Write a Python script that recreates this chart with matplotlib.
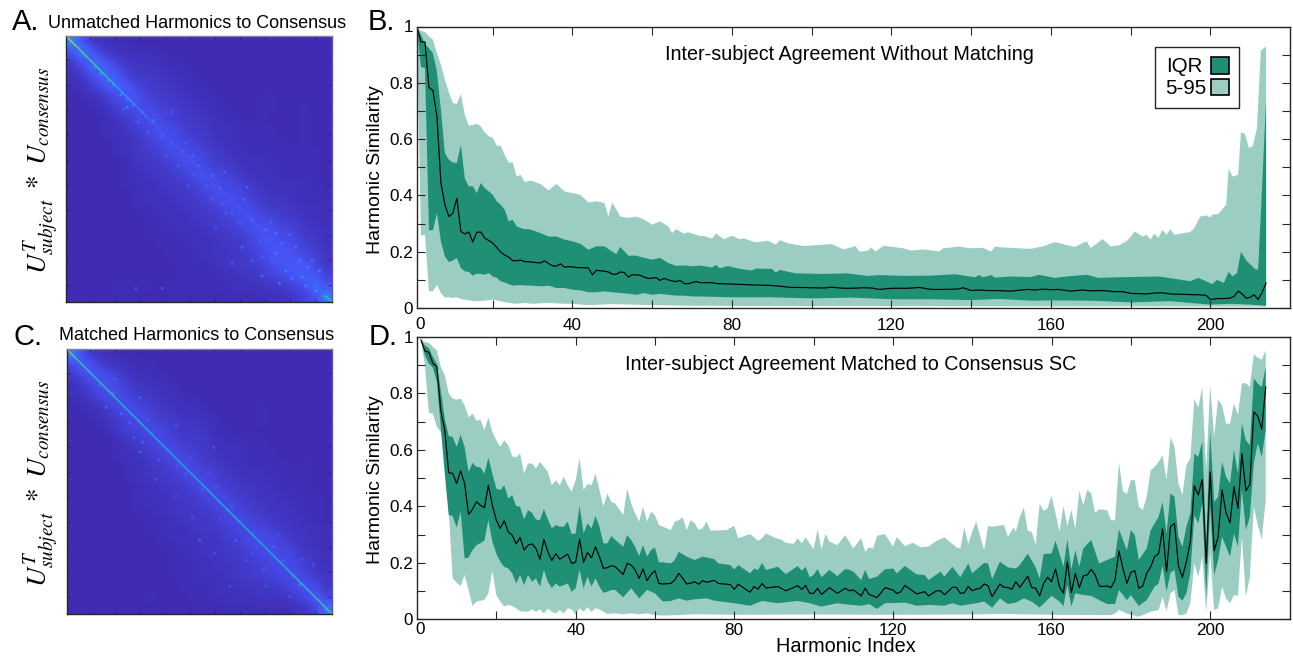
import numpy as np
import matplotlib
matplotlib.use("Agg")
import matplotlib.pyplot as plt
from matplotlib.collections import LineCollection
from matplotlib.colors import LinearSegmentedColormap
from matplotlib.patches import Patch
from matplotlib.ticker import FixedLocator

plt.rcParams['font.family'] = ['Liberation Sans', 'DejaVu Sans']
plt.rcParams['mathtext.fontset'] = 'stix'

W, H = 1293, 657
DARK = '#1f9075'
LIGHT = '#9ccdc3'
INK = '#262626'

# ---------- panel B values ----------
b_med_x = list(range(1, 26)) + [26,27,28,29,30,31,32,33,34,35,36,37,38,39,40,41,42,43,44,45,46,47,48,49,50,51,52,53,54,55,56,57,58,59,60,61,62,63,64,65,66,67,68,69,70,71,72,73,74,75,76,80,85,90,93,95,97,100,103,105,108,110,113,115,117,120,122,124,127,130,133,136,137,138,140,142,144,146,150,154,156,158,160,162,165,168,170,173,176,178,180,184,186,188,190,194,197,199,200,202,203,205,206,207,208,209,210,211,212,213,214]
b_med_y = [1.0,.945,.945,.783,.773,.68,.444,.367,.325,.337,.39,.272,.263,.27,.234,.269,.27,.248,.24,.231,.215,.199,.188,.181,.168,
 .168,.17,.165,.164,.163,.161,.16,.168,.158,.15,.149,.157,.145,.147,.146,.144,.143,.143,.142,.118,.134,.132,.131,.128,.12,.12,.128,.126,.11,.118,.118,.116,.11,.105,.106,.108,.098,.105,.1,.096,.094,.098,.087,.086,.09,.094,.09,.09,.09,.09,.087,
 .085,.082,.08,.076,.073,.073,.072,.071,.074,.07,.07,.072,.071,.066,.07,.07,.07,.073,.066,.066,.067,.068,.072,.062,.064,.062,.062,.06,.066,.064,.067,.065,.066,.06,.064,.061,.062,.058,.058,.052,.05,.053,.054,.05,.048,.047,.045,.03,.034,.033,.035,.042,.06,.05,.035,.038,.047,.03,.055,.089]

b_p95_x = list(range(1,31)) + [32,34,36,38,40,42,44,46,48,49,50,52,54,56,58,60,62,64,65,66,68,69,72,73,75,76,78,80,82,83,86,89,91,92,94,98,103,105,108,111,112,114,115,116,118,123,125,128,132,133,137,140,143,145,146,148,151,155,158,161,166,169,170,173,175,177,179,180,181,183,184,185,186,187,188,189,190,191,195,196,197.5,199,200,200.5,202,204,204.6,205.6,207,207.7,208.7,209.7,210.7,211.7,212.7,214]
b_p95_y = [.994,.985,.98,.965,.953,.905,.864,.81,.766,.728,.725,.76,.686,.647,.65,.654,.645,.624,.61,.605,.576,.576,.544,.517,.517,.467,.473,.447,.451,.451,
 .44,.418,.441,.414,.408,.402,.375,.379,.373,.325,.375,.325,.32,.325,.314,.296,.308,.29,.266,.28,.264,.269,.256,.256,.247,.265,.244,.257,.244,.247,.233,.239,.225,.241,.23,.22,.225,.227,.208,.22,.2,.203,.215,.2,.221,.212,.204,.208,.201,.212,.218,.212,.214,.2,.218,.215,.213,.21,.219,.234,.217,.237,.213,.245,.219,.222,.237,.252,.272,.254,.26,.243,.264,.249,.278,.26,.28,.26,.27,.284,.325,.329,.322,.331,.334,.367,.495,.467,.473,.624,.618,.568,.576,.639,.915,.929]

b_q75_x = list(range(1,31)) + [32,34,36,38,40,42,44,46,48,50,51,52,54,56,58,60,62,64,66,68,70,72,75,76,77,79,82,85,86,90,91,92,96,103,109,114,117,123,130,136,141,142,143,145,146,150,155,157,161,164,169,172,176,180,187,190,195,197,200.5,201.7,203.4,204.6,205.6,206.7,207.7,209.2,211.3,212,213,214]
b_q75_y = [.994,.97,.938,.923,.905,.84,.704,.55,.527,.517,.515,.58,.46,.432,.432,.408,.444,.426,.414,.402,.379,.367,.349,.308,.314,.29,.284,.28,.28,.276,
 .266,.254,.254,.243,.237,.228,.207,.219,.219,.2,.192,.217,.186,.186,.178,.172,.178,.16,.15,.151,.148,.151,.144,.153,.141,.149,.139,.133,.14,.139,.126,.135,.123,.121,.123,.114,.117,.114,.115,.12,.109,.117,.109,.117,.108,.112,.11,.118,.107,.112,.118,.107,.109,.11,.112,.106,.095,.107,.085,.1,.089,.128,.112,.124,.199,.166,.138,.136,.43,.74]

b_q25_x = list(range(1,31)) + [32,34,36,38,40,42,44,46,48,50,52,54,56,58,60,62,64,66,68,70,72,80,90,100,110,120,130,140,147,155,160,170,180,190,200,205,210,214]
b_q25_y = [.994,.856,.852,.276,.276,.337,.237,.183,.163,.169,.178,.142,.13,.128,.115,.122,.121,.118,.124,.112,.107,.095,.091,.085,.08,.08,.082,.08,.08,.079,
 .077,.079,.071,.071,.065,.063,.056,.056,.059,.056,.053,.051,.047,.053,.047,.05,.047,.044,.044,.041,.041,.038,.038,.034,.037,.031,.031,.028,.032,.026,.027,.026,.02,.024,.012,.015,.012,.008]

b_p5_x = [1,2,3,4,5,6,7,8,9,10,11,12,14,16,18,20,22,24,26,28,30,34,38,40,44,50,60,70,90,120,150,180,214]
b_p5_y = [.99,.257,.26,.059,.059,.083,.053,.038,.038,.036,.038,.032,.027,.024,.026,.03,.024,.018,.015,.018,.015,.018,.015,.015,.01,.014,.01,.008,.007,.007,.006,.006,.005]

# ---------- panel D values ----------
d_med_x = list(range(1,51)) + [52,53,54,55,56,57,58,59,60,61,62,64,65,66,67,68,69,70,71,72,73,75,76,79,80,81,84,85,86,87,88,91,93,96,97,98,99,100,101,102,104,106,108,109,110,112,113,114,116,118,120,121,122,123,126,128,129,131,132,133,135,136,137,138,139,140,141,142,143,144,145,147] + list(range(148,215))
d_med_y = [.99,.95,.946,.906,.896,.74,.67,.519,.517,.481,.526,.481,.371,.39,.416,.404,.395,.475,.404,.351,.322,.349,.31,.298,.267,.29,.245,.263,.267,.251,.213,.283,.239,.208,.233,.213,.222,.231,.198,.202,.284,.202,.237,.218,.257,.222,.18,.183,.19,.186,
 .159,.198,.192,.175,.145,.178,.137,.159,.172,.127,.125,.127,.139,.163,.145,.125,.128,.133,.124,.137,.131,.138,.127,.123,.106,.124,.096,.116,.107,.127,.111,.116,.101,.119,.106,.12,.092,.092,.11,.088,.112,.092,.11,.101,.104,.083,.11,.088,.077,.112,.104,.091,.098,.12,.09,.098,.083,.101,.101,.087,.113,.113,.092,.094,.116,.101,.107,.11,.125,.119,.08,.125,
 .113,.113,.106,.133,.113,.133,.153,.113,.11,.083,.127,.149,.133,.178,.116,.092,.204,.094,.163,.112,.154,.157,.177,.157,.118,.116,.118,.112,.139,.242,.18,.127,.166,.172,.11,.118,.163,.186,.222,.233,.32,.169,.328,.34,.189,.149,.204,.275,.473,.44,.495,.198,.522,.243,.292,.458,.377,.342,.469,.393,.587,.455,.478,.735,.719,.673,.823]

d_q75_x = list(range(1,51)) + [52,53,54,55,56,57,58,59,60,61,62,64,65,66,68,70,72,75,76,79,80,81,84,85,86,87,88,91,93,96,97,98,99,100,101,102,104,106,108,109,110,112,113,114,116,118,120,121,123,126,128,129,132,133,135,137,139,140,143,144,145,147,149,151,152,154,156,157,158,160,161,162,163,164,165,166,167,168,170,172,174,176,177,179,180,181,182,184,185,187,188,189,190,191,192,193,194,195,196,197,198,199,200,201,202,203,204,205,206,207,208,209,210,211,212,213,214]
d_q75_y = [.99,.97,.96,.93,.905,.81,.71,.649,.646,.611,.654,.611,.522,.554,.54,.538,.516,.573,.516,.463,.458,.475,.428,.44,.401,.399,.354,.387,.377,.354,.351,.39,.354,.322,.334,.328,.328,.346,.302,.304,.402,.304,.34,.322,.366,.328,.269,.269,.295,.281,
 .257,.298,.281,.257,.224,.263,.222,.245,.254,.202,.202,.198,.21,.239,.222,.21,.222,.213,.198,.192,.177,.192,.163,.18,.175,.2,.175,.186,.16,.189,.172,.186,.149,.157,.178,.149,.175,.153,.178,.175,.169,.139,.175,.143,.151,.177,.18,.163,.189,.159,.157,.139,.169,.151,.186,.149,.198,.163,.2,.198,.142,.204,.184,.18,.192,.233,.184,.145,.231,.233,.278,.233,.186,.284,.177,.245,.186,.251,.281,.198,.21,.222,.318,.245,.316,.298,.21,.251,.316,.363,.416,.304,.446,.434,.292,.257,.328,.375,.587,.575,.629,.269,.67,.416,.434,.558,.505,.481,.599,.517,.693,.634,.617,.853,.835,.823,.894]

d_q25_x = [1,2,3,4,5,6,7,8,9,10,11,12,13,14,15,16,17,18,19,20,21,22,23,24,25,26,27,28,29,30,31,32,33,34,35,36,37,38,39,40,41,42,43,44,45,46,47,48,49,50,52,54,56,58,60,62,64,66,68,70,73,75,80,84,87,91,96,99,102,106,108,112,114,116,118,123,126,129,133,135,137,141,143,145,147,149,151,153,155,157,160,162,163,164,165,166,168,170,172,174,176,177,179,180,182,184,186,187,188,189,190,191,192,193,194,195,196,197,198,199,200,201,202,203,204,205,206,207,208,209,210,211,212,213,214]
d_q25_y = [.99,.935,.906,.892,.841,.68,.516,.369,.366,.325,.381,.216,.219,.245,.263,.269,.28,.351,.275,.233,.204,.186,.18,.163,.127,.157,.121,.157,.133,.145,.116,.175,.133,.11,.127,.116,.121,.127,.098,.11,.175,.11,.151,.116,.145,.116,.094,.098,.104,.104,.078,.11,.074,.104,.092,.063,.065,.074,.066,.071,.074,.066,.057,.048,.065,.057,.065,.057,.045,.057,.053,.048,.054,.037,.057,.059,.048,.051,.048,.057,.048,.057,.063,.041,.074,.054,.059,.074,.063,.042,.083,.063,.047,.121,.045,.092,.086,.083,.068,.054,.054,.104,.068,.086,.047,.068,.116,.127,.19,.098,.165,.175,.08,.066,.092,.163,.369,.34,.41,.08,.399,.157,.21,.292,.257,.222,.304,.257,.458,.316,.363,.552,.623,.575,.67]

d_p95_x = list(range(1,51)) + [52,53,54,55,56,57,58,59,60,61,62,64,65,66,67,68,69,70,71,72,73,74,78,80,81,84,86,87,88,90,92,93,95,96,97,98,100,101,102,103,104,106,108,110,112,113,114,115,116,118,120,121,123,125,127,129,131,133,136,137,138,139,140,141,143,144,145,148,149,150.4,151,152,153,154,155,156,157,158,159,160,161,162,163,164,165,166,167,168,169,170,171,172,174,175,176,177,178,179,180,181,182,183,184,185,186,187,188,189,190,191,192,193,194,195,196,197,198,199,200,201,202,203,204,205,206,207,208,209,210,211,212,213,214]
d_p95_y = [.99,.982,.979,.965,.953,.894,.864,.8,.782,.778,.782,.758,.715,.729,.703,.708,.67,.715,.664,.634,.611,.634,.617,.578,.573,.587,.516,.552,.552,.534,.558,.54,.522,.475,.493,.475,.505,.475,.452,.493,.57,.458,.479,.475,.516,.458,.399,.446,.416,.41,
 .369,.463,.41,.375,.346,.399,.346,.381,.369,.334,.328,.316,.346,.351,.361,.316,.351,.34,.316,.322,.346,.314,.316,.331,.287,.302,.278,.287,.304,.29,.281,.271,.267,.287,.269,.29,.248,.318,.248,.302,.275,.263,.298,.251,.287,.239,.255,.25,.296,.302,.257,.292,.259,.271,.255,.258,.278,.29,.255,.251,.325,.267,.31,.346,.245,.33,.328,.334,.292,.325,.31,.363,.396,.314,.31,.263,.41,.384,.393,.438,.375,.31,.401,.33,.389,.32,.454,.404,.458,.446,.377,.39,.387,.351,.351,.555,.454,.443,.493,.493,.399,.387,.434,.528,.54,.558,.581,.493,.644,.611,.481,.44,.546,.57,.78,.75,.821,.528,.829,.646,.778,.758,.693,.693,.764,.723,.835,.837,.823,.939,.927,.92,.953]

d_p5_x = [1,2,3,4,5,6,7,8,9,10,11,12,13,14,15,16,17,18,19,20,21,22,23,24,25,26,27,28,29,30,31,32,33,34,35,36,37,38,39,40,41,42,43,44,45,46,47,48,50,52,54,56,58,60,62,66,70,80,100,120,140,147,160,175,176,177,179,182,185,187,188,189,190,191,192,193,194,195,196,197,198,199,200,201,202,203,204,205,206,207,208,209,210,211,212,213,214]
d_p5_y = [.99,.9,.731,.729,.682,.664,.6,.387,.145,.13,.118,.157,.104,.047,.063,.066,.068,.092,.172,.086,.063,.045,.051,.047,.039,.029,.027,.027,.035,.027,.035,.021,.038,.027,.021,.033,.021,.039,.035,.018,.039,.027,.042,.027,.039,.035,.027,.019,.021,.018,.021,.018,.021,.015,.013,.015,.018,.016,.017,.016,.017,.019,.016,.015,.02,.033,.02,.009,.027,.033,.08,.029,.092,.104,.015,.015,.02,.057,.198,.151,.222,.024,.233,.033,.039,.116,.074,.057,.086,.083,.292,.08,.151,.399,.334,.283,.422]

# ---------- heat map values (coarse read of the two matrices, percent of colour range) ----------
heat_a = [
[30,14,6,4,3,3,2,2,2,2,2,2,2,2,2,2,2,2,2,2,2,2,2,2],
[14,24,14,8,5,4,3,3,3,2,2,2,2,2,2,2,2,2,2,2,2,2,2,2],
[6,13,22,16,10,6,5,5,4,3,3,2,2,2,2,2,2,2,2,2,2,2,2,2],
[4,7,14,20,16,9,6,6,5,4,3,3,2,2,2,2,2,2,2,2,2,2,2,2],
[3,4,8,14,19,15,10,7,6,5,4,3,3,2,2,2,2,2,2,2,2,2,2,2],
[2,3,4,7,12,15,13,9,7,6,5,4,3,3,2,2,2,2,3,2,2,2,2,2],
[2,2,3,4,8,11,13,12,9,8,6,5,4,3,3,2,2,3,3,2,2,3,2,2],
[2,2,2,3,5,7,11,13,12,9,7,6,5,4,3,3,2,3,2,2,2,3,2,2],
[2,2,2,3,4,6,8,11,13,12,9,7,6,4,4,3,3,3,3,2,2,3,2,2],
[2,2,2,2,3,4,6,9,12,13,11,9,7,5,4,3,3,3,3,3,2,3,2,2],
[2,2,2,2,3,4,6,7,9,12,13,11,9,7,5,4,3,3,3,3,3,3,3,2],
[2,2,2,2,2,3,5,6,7,9,12,13,11,8,7,5,4,4,3,3,3,3,3,2],
[2,2,2,2,2,3,4,5,6,7,9,12,13,11,9,7,5,4,4,3,3,3,3,2],
[2,2,2,2,2,3,3,4,5,6,7,9,12,13,11,10,7,5,4,4,4,4,3,2],
[2,2,2,2,2,2,3,4,4,5,6,7,9,12,13,12,9,7,5,5,4,3,3,3],
[2,2,2,2,2,2,3,3,4,4,5,6,7,9,12,13,12,9,7,6,5,4,4,3],
[2,2,2,2,2,2,2,3,3,4,4,5,6,7,9,12,14,12,10,8,7,5,4,3],
[2,2,2,2,2,2,2,3,3,3,4,4,5,6,7,9,12,14,13,11,9,7,5,4],
[2,2,2,2,2,2,2,2,3,3,3,4,4,5,6,7,9,13,15,13,12,8,7,4],
[2,2,2,2,2,2,2,2,2,3,3,3,4,5,5,6,8,11,14,16,13,11,8,5],
[2,2,2,2,2,2,2,2,2,2,3,3,3,4,6,6,7,9,13,15,17,15,10,6],
[2,2,2,2,2,2,2,2,2,2,3,3,3,3,4,5,6,7,10,12,15,18,15,9],
[2,2,2,2,3,3,2,3,2,3,3,3,3,3,3,4,4,5,6,7,10,14,20,14],
[2,2,2,2,2,2,2,2,2,2,2,2,2,2,3,3,3,3,4,4,6,9,14,26]]

heat_c = [
[26,12,6,4,3,2,2,2,2,2,2,2,2,2,2,2,2,2,2,2,2,2,2,2],
[11,17,12,7,5,4,3,3,2,2,2,2,2,2,2,2,2,2,2,2,2,2,2,2],
[6,11,15,13,9,6,4,3,3,2,2,2,2,2,2,2,2,2,2,2,2,2,2,2],
[4,6,11,14,12,8,6,5,4,3,2,2,2,2,2,2,2,2,2,2,2,2,2,2],
[3,4,7,11,13,11,8,6,5,4,3,3,2,2,2,2,2,2,2,2,2,2,2,2],
[2,3,4,6,10,13,11,8,6,5,4,4,3,2,2,2,2,3,2,2,2,2,2,2],
[2,2,3,4,7,10,12,11,8,7,5,5,4,3,2,2,2,3,2,2,2,2,2,2],
[2,2,2,3,5,8,10,12,11,8,6,6,5,3,3,2,2,2,2,2,2,2,2,2],
[2,2,2,2,3,5,7,10,12,10,8,7,6,4,3,3,3,3,2,2,2,2,2,2],
[2,2,2,2,3,4,5,7,10,12,10,8,6,5,4,4,3,3,3,2,2,2,2,2],
[2,2,2,2,2,3,4,6,7,10,12,10,8,6,5,4,3,3,3,3,2,3,2,2],
[2,2,2,2,2,3,4,5,6,7,10,12,10,8,6,5,4,4,3,3,3,3,2,2],
[2,2,2,2,2,2,3,4,5,6,7,10,12,10,8,6,5,5,4,3,3,3,2,2],
[2,2,2,2,2,2,3,4,4,5,6,7,10,12,10,8,6,5,5,4,3,3,3,2],
[2,2,2,2,2,2,3,3,4,5,6,6,7,10,12,10,8,6,5,5,4,3,3,2],
[2,2,2,2,2,2,2,3,3,4,5,6,6,7,10,12,10,8,6,5,5,4,3,2],
[2,2,2,2,2,2,2,3,3,4,4,5,6,6,8,10,12,11,9,7,5,5,4,3],
[2,2,2,2,2,2,2,2,3,3,4,4,5,5,7,8,11,13,11,9,7,5,4,3],
[2,2,2,2,2,2,2,2,2,3,3,4,5,5,6,7,9,11,13,11,9,6,5,3],
[2,2,2,2,2,2,2,2,2,3,3,3,4,5,5,6,7,9,11,13,11,8,5,4],
[2,2,2,2,2,2,2,2,2,2,3,3,4,4,5,6,7,8,9,11,13,11,7,5],
[2,2,2,2,2,2,2,2,2,2,3,3,3,4,4,5,5,6,7,8,11,14,11,6],
[2,2,2,2,2,2,2,3,2,2,2,3,3,3,4,4,4,5,5,5,7,11,16,11],
[2,2,2,2,2,2,2,2,2,2,2,2,2,2,3,3,3,3,3,3,4,6,11,24]]

diag_idx = [1,9,17,25,33,41,49,57,65,73,81,89,97,105,113,121,129,137,145,153,161,169,177,185,193,201,209,214]
diag_a = [.75,.62,.58,.55,.48,.4,.32,.25,.18,.16,.15,.14,.14,.14,.14,.14,.14,.14,.14,.14,.14,.14,.14,.16,.18,.22,.5,.75]
diag_c = [.65,.55,.5,.5,.5,.45,.45,.45,.42,.42,.4,.4,.42,.42,.42,.42,.45,.42,.42,.42,.42,.45,.45,.48,.5,.55,.6,.75]

# brighter speckles: row, column and colour position
spot_a_x = [11,17,25,29,35,39,45,50,55,50,62,71,78,86,94,102,107,118,124,134,144,150,161,169,185,182,177,190,193,201,208,172,158,169,188,198,204,129,110,97,81,67,59,91,113,99,118,134,166,174,156,140,126,86,71,121,150,134,78,57,41,47,75,104,128,146,165,180,195,158,142]
spot_a_y = [10,17,26,31,37,40,48,52,56,58,62,69,81,87,93,97,105,113,123,143,132,148,156,159,170,195,189,194,201,205,209,199,193,175,181,181,189,143,111,87,97,78,70,105,121,121,132,130,181,167,165,151,135,62,64,154,181,183,203,203,30,60,75,112,110,122,150,160,186,178,170]
spot_a_v = [.4,.42,.38,.34,.3,.32,.28,.26,.3,.26,.24,.26,.22,.22,.24,.22,.22,.24,.22,.2,.22,.24,.24,.26,.26,.3,.28,.3,.34,.34,.5,.24,.22,.26,.26,.24,.28,.18,.2,.18,.18,.18,.18,.18,.18,.16,.18,.18,.22,.22,.2,.18,.18,.15,.15,.16,.16,.15,.15,.13,.2,.2,.18,.18,.18,.18,.2,.22,.26,.2,.18]
spot_c_x = [38,33,27,19,62,60,70,89,81,119,97,110,121,134,108,137,167,159,183,188,199,204,175,151,89,73,102,124,145,132,161,45,52,55,66,75,90,100,115,128,140,150,170,190,180,120,60,40]
spot_c_y = [37,48,30,19,76,84,68,63,82,80,101,114,111,128,155,155,160,179,184,190,174,203,171,149,119,106,136,138,171,192,192,53,60,72,58,90,95,88,100,120,140,165,150,170,200,165,40,25]
spot_c_v = [.26,.2,.22,.24,.2,.18,.18,.14,.18,.14,.18,.18,.16,.18,.14,.16,.2,.16,.2,.26,.14,.2,.18,.2,.14,.14,.14,.14,.14,.12,.13,.2,.2,.16,.16,.16,.16,.15,.15,.16,.18,.14,.14,.14,.14,.12,.18,.18]

parula = LinearSegmentedColormap.from_list('parula', [
    (0.2422,0.1504,0.6603),(0.2810,0.3228,0.9579),(0.1786,0.5289,0.9682),
    (0.0689,0.6948,0.8394),(0.2161,0.7843,0.5923),(0.6720,0.7793,0.2227),
    (0.9970,0.7659,0.2199),(0.9769,0.9839,0.0805)])

def box(l, t, r, b):
    return [l/W, 1-b/H, (r-l)/W, (b-t)/H]

def label(x, y, s, **kw):
    return fig.text(x/W, 1-y/H, s, ha=kw.pop('ha','center'), va=kw.pop('va','center'), **kw)

fig = plt.figure(figsize=(W/100, H/100), dpi=100)

def heat(rect, matrix, diag, sx, sy, sv):
    ax = fig.add_axes(box(*rect))
    ax.imshow(np.array(matrix)/100, cmap=parula, vmin=0, vmax=1, extent=[1,214,214,1],
              interpolation='bilinear', aspect='auto')
    ax.scatter(sx, sy, c=sv, cmap=parula, vmin=0, vmax=1, s=5, marker='o', linewidths=0, alpha=.85)
    pts = np.column_stack([diag_idx, diag_idx]).astype(float)
    segs = np.stack([pts[:-1], pts[1:]], axis=1)
    lc = LineCollection(segs, array=np.array(diag[:-1]), cmap=parula, norm=plt.Normalize(0,1), linewidths=1.0)
    ax.add_collection(lc)
    ax.set_xlim(1,214); ax.set_ylim(214,1)
    ticks = np.arange(20, 201, 20)
    ax.set_xticks(ticks); ax.set_yticks(ticks)
    ax.set_xticklabels([]); ax.set_yticklabels([])
    ax.tick_params(direction='in', length=2.5, width=0.6, color=INK, top=True, right=True)
    for s in ax.spines.values():
        s.set_linewidth(1); s.set_color(INK)
    ax.spines['top'].set_color('#7f7fa0')
    ax.spines['right'].set_color('#5a50d8')
    return ax

heat((66,36,332,302), heat_a, diag_a, spot_a_x, spot_a_y, spot_a_v)
heat((66.5,349,332,614), heat_c, diag_c, spot_c_x, spot_c_y, spot_c_v)

def S(x, y):
    return (np.array(x, float), np.array(y, float))

def band(rect, xlim, series, pad):
    ax = fig.add_axes(box(*rect))
    (p5x,p5y),(q25x,q25y),(mx,my),(q75x,q75y),(p95x,p95y) = series
    ax.fill(np.r_[p95x, p5x[::-1]], np.r_[p95y, p5y[::-1]], color=LIGHT, lw=0)
    ax.fill(np.r_[q75x, q25x[::-1]], np.r_[q75y, q25y[::-1]], color=DARK, lw=0)
    ax.plot(mx, my, color='black', lw=0.85)
    ax.set_xlim(*xlim); ax.set_ylim(0,1)
    ax.set_xticks([40,80,120,160,200])
    ax.xaxis.set_minor_locator(FixedLocator([20,60,100,140,180]))
    ax.set_yticks([0,.2,.4,.6,.8,1]); ax.set_yticklabels(['0','0.2','0.4','0.6','0.8','1'])
    ax.yaxis.set_minor_locator(FixedLocator([.1,.3,.5,.7,.9]))
    ax.tick_params(which='both', direction='in', length=5.8, width=0.8, color=INK, top=True, right=True, labelsize=12.3)
    ax.tick_params(axis='x', which='both', pad=pad)
    ax.tick_params(axis='y', which='both', pad=3)
    ax.set_axisbelow(False)
    for s in ax.spines.values():
        s.set_linewidth(1); s.set_color(INK)
    return ax

ax_b = band((417,26.5,1290,308), (1,220),
            [S(b_p5_x,b_p5_y),S(b_q25_x,b_q25_y),S(b_med_x,b_med_y),S(b_q75_x,b_q75_y),S(b_p95_x,b_p95_y)], 7)
ax_d = band((417,337,1289.5,619.3), (0,220),
            [S(d_p5_x,d_p5_y),S(d_q25_x,d_q25_y),S(d_med_x,d_med_y),S(d_q75_x,d_q75_y),S(d_p95_x,d_p95_y)], 3)

label(420, 324.5, '0', fontsize=12.3)
label(420, 630, '0', fontsize=12.3)

leg = ax_b.legend(handles=[Patch(facecolor=DARK, edgecolor='black', lw=1.2, label='IQR'),
                           Patch(facecolor=LIGHT, edgecolor='black', lw=1.2, label='5-95')],
                  markerfirst=False, loc='upper left', fancybox=False, framealpha=1, edgecolor=INK,
                  fontsize=14.8, handlelength=0.88, handleheight=0.88, handletextpad=0.2,
                  labelspacing=0.1, borderpad=0.5, borderaxespad=0,
                  bbox_to_anchor=((1155-417)/873, 1-(46.7-26.5)/281.5))
leg.get_frame().set_linewidth(1.0)
rows = leg._legend_handle_box.get_children()[0].get_children()
rows[0].sep += 3

label(197, 24, 'Unmatched Harmonics to Consensus', fontsize=13)
label(197, 335, 'Matched Harmonics to Consensus', fontsize=13)
label(849, 54, 'Inter-subject Agreement Without Matching', fontsize=14.2)
label(851, 365, 'Inter-subject Agreement Matched to Consensus SC', fontsize=14.2)
label(375, 170, 'Harmonic Similarity', fontsize=14, rotation=90)
label(375, 480, 'Harmonic Similarity', fontsize=14, rotation=90)
label(846, 647, 'Harmonic Index', fontsize=14.3)
for x, y, s in [(12,22,'A.'),(368,22,'B.'),(13,337,'C.'),(369,337,'D.')]:
    label(x, y, s, fontsize=21, ha='left')
math = r'$U_{subject}^{T}\ *\ U_{consensus}$'
label(41, 170, math, fontsize=19.5, rotation=90)
label(41, 483, math, fontsize=19.5, rotation=90)

fig.savefig('out.png', dpi=100)
